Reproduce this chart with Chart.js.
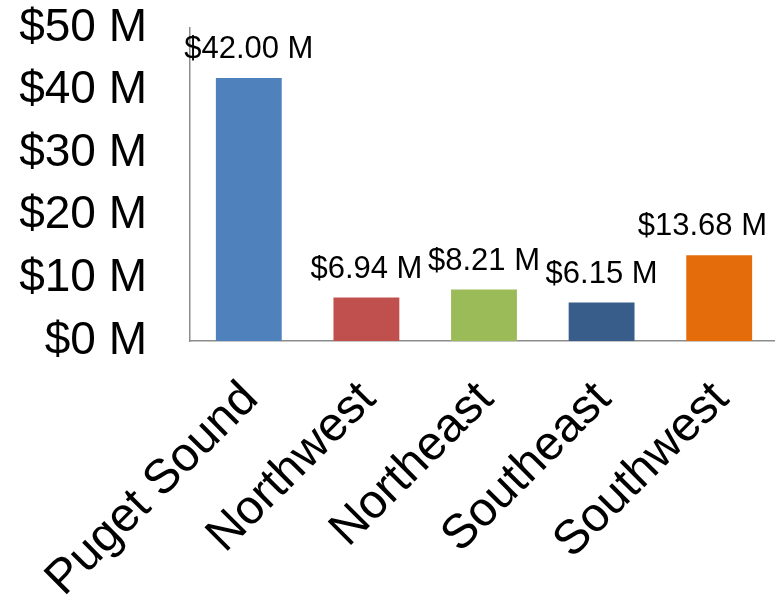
<!DOCTYPE html>
<html>
<head>
<meta charset="utf-8">
<script src="https://cdn.jsdelivr.net/npm/chart.js@4.4.0/dist/chart.umd.min.js"></script>
<style>
  html, body { margin: 0; padding: 0; background: #ffffff; overflow: hidden; }
  #wrap { position: relative; width: 778px; height: 597px; }
</style>
</head>
<body>
<div id="wrap"><canvas id="c"></canvas></div>
<script>
const categories = ['Puget Sound', 'Northwest', 'Northeast', 'Southeast', 'Southwest'];
const values = [42.00, 6.94, 8.21, 6.15, 13.68];
const barColors = ['#4F81BD', '#C0504D', '#9BBB59', '#385D8A', '#E46C0A'];
const yTickValues = [0, 10, 20, 30, 40, 50];

const FONT = "'Liberation Sans', Arial, sans-serif";
const VIEW_W = 775;

const dataLabels = {
  id: 'dataLabels',
  afterDatasetsDraw(chart) {
    const ctx = chart.ctx;
    const meta = chart.getDatasetMeta(0);
    ctx.save();
    ctx.font = '31px ' + FONT;
    ctx.fillStyle = '#000000';
    ctx.textAlign = 'center';
    ctx.textBaseline = 'alphabetic';
    meta.data.forEach((bar, i) => {
      const txt = '$' + values[i].toFixed(2) + ' M';
      const w = ctx.measureText(txt).width;
      let x = bar.x;
      if (x + w / 2 > VIEW_W - 8) x = VIEW_W - 8 - w / 2;
      ctx.fillText(txt, x, bar.y - 20);
    });
    ctx.restore();
  }
};

new Chart(document.getElementById('c'), {
  type: 'bar',
  data: {
    labels: categories,
    datasets: [{
      data: values,
      backgroundColor: barColors,
      borderWidth: 0,
      categoryPercentage: 1.0,
      barPercentage: 0.56
    }]
  },
  options: {
    responsive: true,
    maintainAspectRatio: false,
    animation: false,
    layout: { padding: { top: 0, left: 0, right: 0, bottom: 0 } },
    plugins: { legend: { display: false }, tooltip: { enabled: false } },
    scales: {
      x: {
        grid: { display: false, drawTicks: false },
        border: { display: true, color: '#8C8C8C', width: 1.5 },
        ticks: {
          color: '#000000',
          font: { family: FONT, size: 48 },
          minRotation: 45,
          maxRotation: 45,
          padding: 30,
          labelOffset: 2,
          autoSkip: false
        },
        afterFit(scale) {
          scale.height = 256;
          scale.paddingLeft = 0;
          scale.paddingRight = 0;
        }
      },
      y: {
        min: 0,
        max: 50,
        afterBuildTicks(scale) { scale.ticks = yTickValues.map(v => ({ value: v })); },
        grid: { display: false, drawTicks: false },
        border: { display: true, color: '#8C8C8C', width: 1.5 },
        ticks: {
          color: '#000000',
          font: { family: FONT, size: 46 },
          padding: 43,
          autoSkip: false,
          callback: (v) => '$' + v + ' M'
        },
        afterFit(scale) {
          scale.width = 190;
          scale.paddingTop = 28;
          scale.paddingBottom = 0;
        }
      }
    }
  },
  plugins: [dataLabels]
});
</script>
</body>
</html>
